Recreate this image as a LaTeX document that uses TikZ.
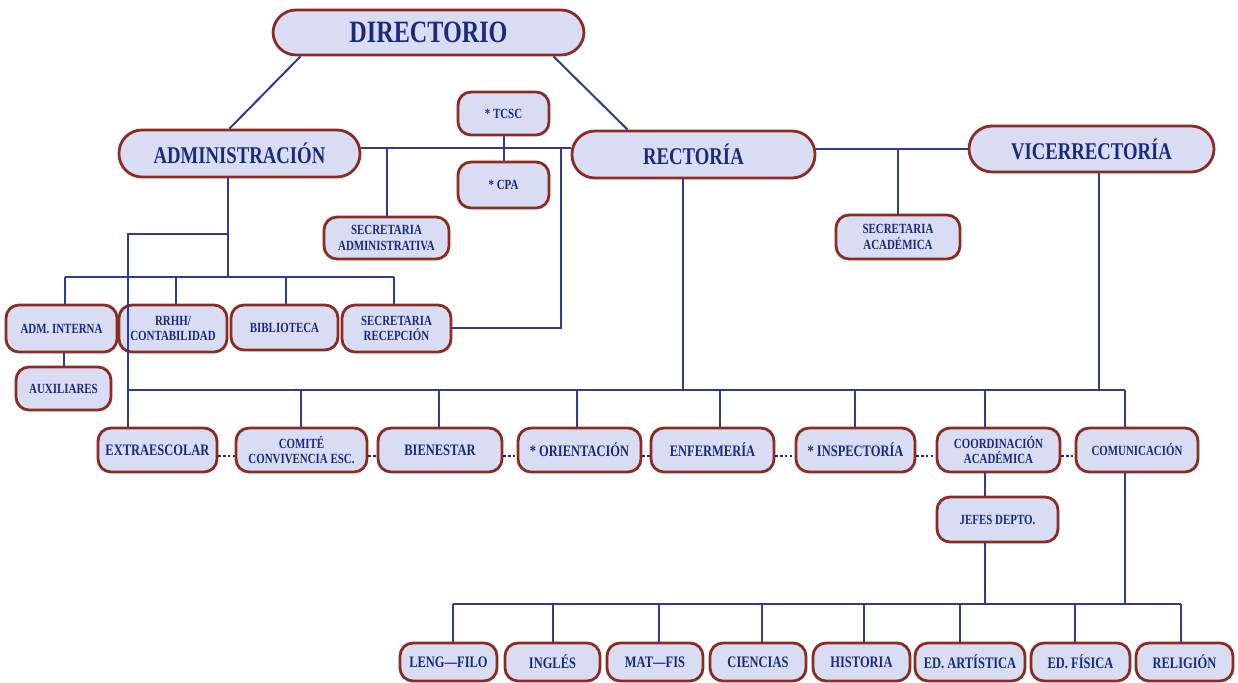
\documentclass[tikz,border=0pt]{standalone}
\usepackage{fontspec}
\setmainfont{Liberation Serif}[FakeStretch=0.78]
\definecolor{boxfill}{HTML}{D8DDF4}
\definecolor{boxred}{HTML}{8B2B22}
\definecolor{navy}{HTML}{1B2A7A}
\definecolor{linec}{HTML}{2E3B8E}
\begin{document}
\begin{tikzpicture}[x=0.5pt,y=-0.5pt,
  base/.style={draw=boxred, line width=1.4pt, fill=boxfill, text=navy, align=center, inner sep=0pt},
  bigbox/.style={base, rounded corners=11.5pt, font=\bfseries\fontsize{12}{13}\selectfont},
  smallbox/.style={base, rounded corners=6.5pt, font=\bfseries\fontsize{7}{7.6}\selectfont},
  midbox/.style={base, rounded corners=6.5pt, font=\bfseries\fontsize{8}{8.4}\selectfont},
  conn/.style={draw=linec, line width=1pt},
  dotline/.style={draw=navy, line width=0.6pt, dash pattern=on 1.2pt off 1.2pt}]
\useasboundingbox[fill=white] (0,0) rectangle (1238,683);
% top level
\node[bigbox, minimum width=155.5pt, minimum height=22.5pt, font=\bfseries\fontsize{15.5}{16}\selectfont] (dir) at (428.5,32.5) {DIRECTORIO};
\node[bigbox, minimum width=120.5pt, minimum height=23.5pt] (adm) at (239.5,153.5) {ADMINISTRACIÓN};
\node[bigbox, minimum width=121.5pt, minimum height=23.5pt] (rec) at (693.5,154.5) {RECTORÍA};
\node[bigbox, minimum width=122.5pt, minimum height=23pt] (vice) at (1091.5,149) {VICERRECTORÍA};
\node[smallbox, minimum width=45.5pt, minimum height=21.5pt] (tcsc) at (503.5,113.5) {* TCSC};
\node[smallbox, minimum width=45.5pt, minimum height=23pt] (cpa) at (503.5,185) {* CPA};
\node[smallbox, minimum width=62.5pt, minimum height=21pt] (secadm) at (386.5,238) {SECRETARIA\\ADMINISTRATIVA};
\node[smallbox, minimum width=62pt, minimum height=22pt] (secaca) at (898,237) {SECRETARIA\\ACADÉMICA};
% administration row
\node[smallbox, minimum width=55.5pt, minimum height=23.5pt] (admint) at (61.5,328.5) {ADM. INTERNA};
\node[smallbox, minimum width=54pt, minimum height=23.5pt] (rrhh) at (173,328.5) {RRHH/\\CONTABILIDAD};
\node[smallbox, minimum width=53.5pt, minimum height=22.5pt] (bib) at (284.5,327.5) {BIBLIOTECA};
\node[smallbox, minimum width=54.5pt, minimum height=23.5pt] (secrec) at (396.5,328.5) {SECRETARIA\\RECEPCIÓN};
\node[smallbox, minimum width=47.5pt, minimum height=21.5pt] (aux) at (63.5,388.5) {AUXILIARES};
% row 2
\node[midbox, minimum width=59.5pt, minimum height=22pt] (extra) at (157.5,450) {EXTRAESCOLAR};
\node[smallbox, minimum width=65.5pt, minimum height=22pt] (comite) at (301.5,450) {COMITÉ\\CONVIVENCIA ESC.};
\node[midbox, minimum width=62pt, minimum height=22pt] (bien) at (440,450) {BIENESTAR};
\node[midbox, minimum width=61.5pt, minimum height=22pt] (orien) at (579.5,450) {* ORIENTACIÓN};
\node[midbox, minimum width=61.5pt, minimum height=22pt] (enf) at (712.5,450) {ENFERMERÍA};
\node[midbox, minimum width=59.5pt, minimum height=22pt] (insp) at (855.5,450) {* INSPECTORÍA};
\node[smallbox, minimum width=61.5pt, minimum height=22pt] (coord) at (998.5,450) {COORDINACIÓN\\ACADÉMICA};
\node[smallbox, minimum width=61pt, minimum height=22pt] (comu) at (1137,450) {COMUNICACIÓN};
\node[smallbox, minimum width=60.5pt, minimum height=22.5pt] (jefes) at (997.5,519.5) {JEFES DEPTO.};
% bottom row
\node[midbox, minimum width=48.5pt, minimum height=19pt] (leng) at (448.5,662) {LENG—FILO};
\node[midbox, minimum width=47.5pt, minimum height=19pt] (ingles) at (552.5,662) {INGLÉS};
\node[midbox, minimum width=48pt, minimum height=19pt] (mat) at (655,662) {MAT—FIS};
\node[midbox, minimum width=48pt, minimum height=19pt] (cien) at (758,662) {CIENCIAS};
\node[midbox, minimum width=48.5pt, minimum height=19pt] (hist) at (861.5,662) {HISTORIA};
\node[midbox, minimum width=55pt, minimum height=19pt] (art) at (970,662) {ED. ARTÍSTICA};
\node[midbox, minimum width=49.5pt, minimum height=19pt] (edf) at (1080.5,662) {ED. FÍSICA};
\node[midbox, minimum width=48.5pt, minimum height=19pt] (rel) at (1184.5,662) {RELIGIÓN};
% connectors: top
\draw[conn] ([shift={(-128,0)}]dir.south) -- ([shift={(-10,0)}]adm.north);
\draw[conn] ([shift={(125,0)}]dir.south) -- ([shift={(-66,0)}]rec.north);
\coordinate (h1) at (561,148);
\draw[conn] (adm.east |- h1) -- (rec.west |- h1);
\draw[conn] (secadm.north) -- (secadm.north |- h1);
\draw[conn] (h1) |- (secrec.east);
\draw[conn] (tcsc) -- (cpa);
\draw[conn] (rec.east |- vice.west) -- (vice.west);
\draw[conn] (secaca.north) -- (secaca.north |- vice.west);
% administration tree
\coordinate (a1) at (228,234);
\coordinate (a2) at (228,277);
\coordinate (L) at (128,234);
\draw[conn] (adm.south -| a1) -- (a2);
\draw[conn] (a1) -- (L) -- (L |- extra.north);
\draw[conn] (65,277) -- (394,277);
\foreach \n/\x in {admint/65, rrhh/176, bib/286, secrec/394}{
  \coordinate (t) at (\x,277);
  \draw[conn] (t) -- (t |- \n.north);
}
\draw[conn] (admint.south -| aux) -- (aux.north);
% main bus
\coordinate (rc) at (683,390);
\coordinate (vc) at (1099,390);
\draw[conn] (128,390) -- (1125,390);
\draw[conn] (rec.south -| rc) -- (rc);
\draw[conn] (vice.south -| vc) -- (vc);
\foreach \n/\x in {comite/301, bien/439, orien/577, enf/720, insp/855, coord/985, comu/1125}{
  \coordinate (t) at (\x,390);
  \draw[conn] (t) -- (t |- \n.north);
}
\foreach \a/\b in {extra/comite, comite/bien, bien/orien, orien/enf, enf/insp, insp/coord, coord/comu}{
  \draw[dotline] ([yshift=-3pt]\a.east) -- ([yshift=-3pt]\b.west);
}
% departments
\coordinate (cj) at (985,0);
\coordinate (jb) at (985,604);
\coordinate (cb) at (1125,604);
\draw[conn] (coord.south -| cj) -- (jefes.north -| cj);
\draw[conn] (jefes.south -| jb) -- (jb);
\draw[conn] (comu.south -| cb) -- (cb);
\draw[conn] (453,604) -- (1181,604);
\foreach \n/\x in {leng/453, ingles/553, mat/659, cien/762, hist/864, art/960, edf/1075, rel/1181}{
  \coordinate (t) at (\x,604);
  \draw[conn] (t) -- (t |- \n.north);
}
\end{tikzpicture}
\end{document}
